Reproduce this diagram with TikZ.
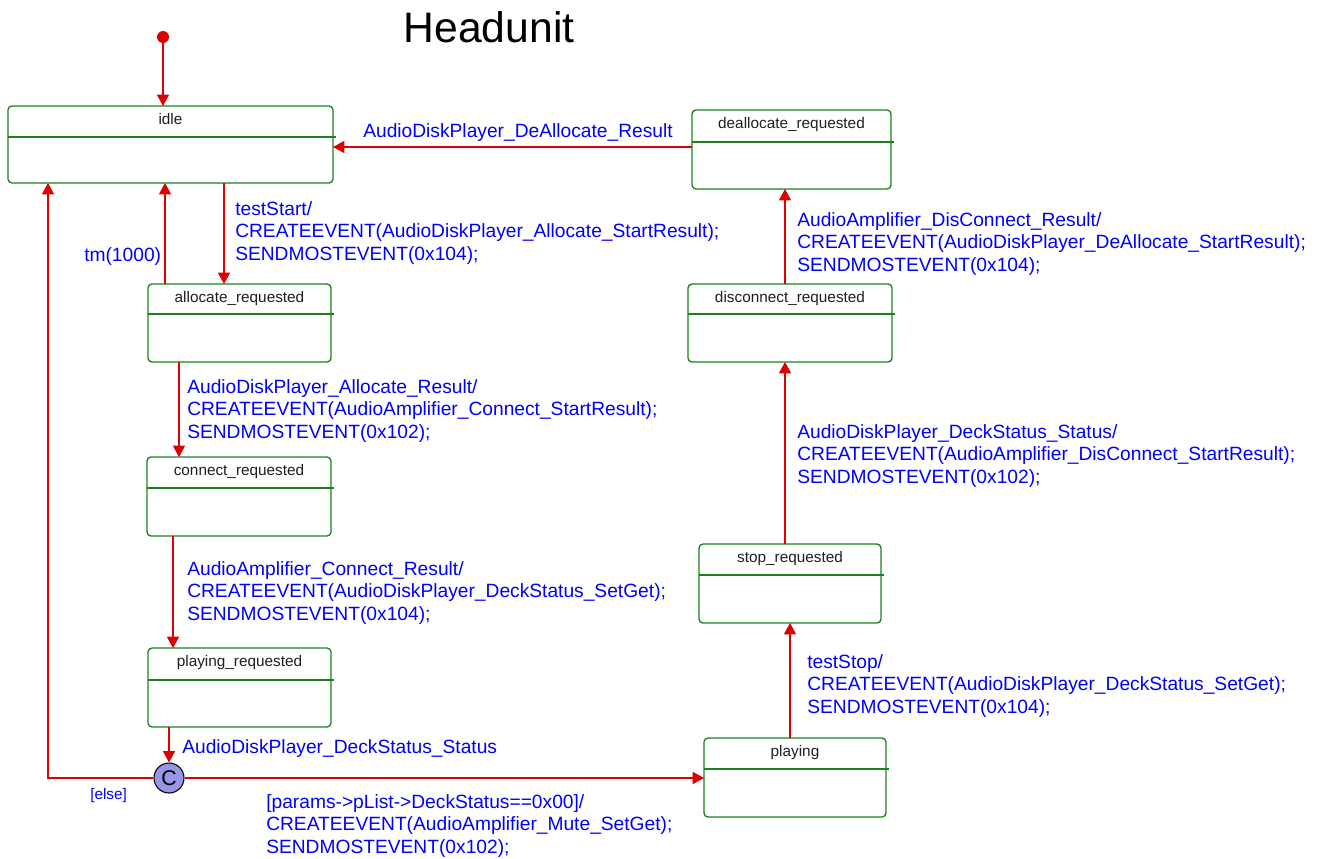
\documentclass[tikz,border=0pt]{standalone}
\usepackage{fontspec}
\setmainfont{Liberation Sans}
\usetikzlibrary{arrows.meta}

\definecolor{stategreen}{RGB}{30,128,30}
\definecolor{transred}{RGB}{222,0,0}
\definecolor{guardblue}{RGB}{0,0,255}
\definecolor{choicefill}{RGB}{150,150,230}

\tikzset{
  statebox/.style={draw=stategreen, line width=1pt, rounded corners=3pt,
    inner sep=0pt, outer sep=0pt, fill=white},
  divider/.style={draw=stategreen, line width=1pt},
  statename/.style={font=\fontsize{11.5}{13}\selectfont, inner sep=0pt,
    text=black!88, anchor=base},
  trans/.style={draw=transred, line width=1.1pt,
    -{Triangle[length=8.5pt,width=9pt]}},
  guard/.style={text=guardblue, font=\fontsize{14.4}{17}\selectfont,
    inner sep=0pt, anchor=base west},
}

% state: name, x1, y1, x2, y2, divider y, title
\newcommand\mkstate[7]{%
  \node[statebox, anchor=north west,
    minimum width={(#4-#2)*0.75pt}, minimum height={(#5-#3)*0.75pt}]
    (#1) at (#2,#3) {};
  \draw[divider] (#2,#6) -- (#4+3,#6);
  \node[statename] (#1-name) at ({(#2+#4)/2},#3+18.5) {#7};
}
\newcommand\guardtext[1]{\begin{tabular}[t]{@{}l@{}}#1\end{tabular}}

\begin{document}
\begin{tikzpicture}[x=0.75pt,y=-0.75pt]
\useasboundingbox (0,0) rectangle (1320,858);
\fill[white] (0,0) rectangle (1320,858);

\node[font=\fontsize{32}{36}\selectfont, anchor=base] (title) at (489,42) {Headunit};

% states
\mkstate{idle}{8}{106}{333}{183}{137}{idle}
\mkstate{alloc}{148}{284}{331}{362}{314}{allocate\_requested}
\mkstate{conn}{147}{457}{331}{536}{488}{connect\_requested}
\mkstate{playreq}{148}{648}{331}{727}{680}{playing\_requested}
\mkstate{dealloc}{692}{110}{891}{189}{142}{deallocate\_requested}
\mkstate{disc}{688}{284}{892}{362}{314}{disconnect\_requested}
\mkstate{stopreq}{699}{544}{881}{623}{575}{stop\_requested}
\mkstate{playing}{704}{738}{886}{817}{769}{playing}

% pseudo states
\node[circle, fill=transred, minimum size={12*0.75pt}, inner sep=0pt] (init) at (163,37) {};
\node[circle, draw=black, fill=choicefill, line width=0.8pt, minimum size={30*0.75pt},
  inner sep=0pt, font=\fontsize{16}{18}\selectfont] (choice) at (169,778) {C};

% columns of the vertical transitions
\coordinate (x163) at (163,0);
\coordinate (x165) at (165,0);
\coordinate (x224) at (224,0);
\coordinate (x179) at (179,0);
\coordinate (x173) at (173,0);
\coordinate (x790) at (790,0);
\coordinate (x785) at (785,0);
\coordinate (y147) at (0,147);
\coordinate (celse) at (48,778);

% transitions
\draw[trans] (init) -- (idle.north -| x163);
\draw[trans] (dealloc.west |- y147) -- (idle.east |- y147);
\draw[trans] (idle.south -| x224) -- (alloc.north -| x224);
\draw[trans] (alloc.north -| x165) -- (idle.south -| x165);
\draw[trans] (alloc.south -| x179) -- (conn.north -| x179);
\draw[trans] (conn.south -| x173) -- (playreq.north -| x173);
\draw[trans] (playreq.south -| choice.north) -- (choice.north);
\draw[trans] (choice.west) -- (celse) -- (celse |- idle.south);
\draw[trans] (choice.east) -- (playing.west |- choice.east);
\draw[trans] (playing.north -| x790) -- (stopreq.south -| x790);
\draw[trans] (stopreq.north -| x785) -- (disc.south -| x785);
\draw[trans] (disc.north -| x785) -- (dealloc.south -| x785);

% transition labels
\node[guard] (g-dealloc) at (363,137) {AudioDiskPlayer\_DeAllocate\_Result};
\node[guard] (g-start) at (235,215) {\guardtext{testStart/\\CREATEEVENT(AudioDiskPlayer\_Allocate\_StartResult);\\SENDMOSTEVENT(0x104);}};
\node[guard] (g-tm) at (84,261) {tm(1000)};
\node[guard] (g-alloc) at (187,393) {\guardtext{AudioDiskPlayer\_Allocate\_Result/\\CREATEEVENT(AudioAmplifier\_Connect\_StartResult);\\SENDMOSTEVENT(0x102);}};
\node[guard] (g-conn) at (187,575) {\guardtext{AudioAmplifier\_Connect\_Result/\\CREATEEVENT(AudioDiskPlayer\_DeckStatus\_SetGet);\\SENDMOSTEVENT(0x104);}};
\node[guard] (g-status) at (182,753) {AudioDiskPlayer\_DeckStatus\_Status};
\node[guard] (g-params) at (266,808) {\guardtext{[params->pList->DeckStatus==0x00]/\\CREATEEVENT(AudioAmplifier\_Mute\_SetGet);\\SENDMOSTEVENT(0x102);}};
\node[guard, font=\fontsize{11.5}{13}\selectfont] (g-else) at (90,799) {[else]};
\node[guard] (g-stop) at (807,668) {\guardtext{testStop/\\CREATEEVENT(AudioDiskPlayer\_DeckStatus\_SetGet);\\SENDMOSTEVENT(0x104);}};
\node[guard] (g-deck) at (797,438) {\guardtext{AudioDiskPlayer\_DeckStatus\_Status/\\CREATEEVENT(AudioAmplifier\_DisConnect\_StartResult);\\SENDMOSTEVENT(0x102);}};
\node[guard] (g-disc) at (797,226) {\guardtext{AudioAmplifier\_DisConnect\_Result/\\CREATEEVENT(AudioDiskPlayer\_DeAllocate\_StartResult);\\SENDMOSTEVENT(0x104);}};
\end{tikzpicture}
\end{document}
